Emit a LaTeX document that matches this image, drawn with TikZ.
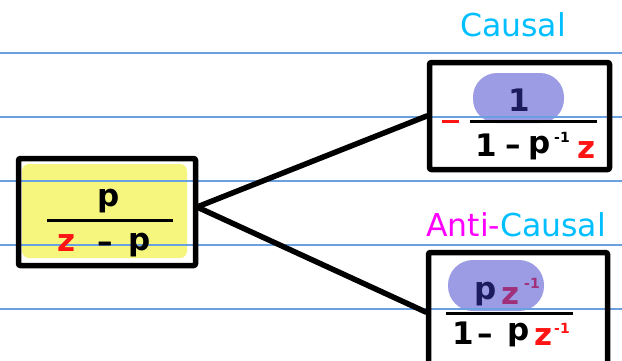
\documentclass[tikz,border=0pt]{standalone}
\usepackage{fontspec}
\setmainfont{DejaVu Sans}
\newfontfamily\hand{DejaVu Sans Bold}
\definecolor{ruleblue}{HTML}{6A9FE0}
\definecolor{hlyellow}{HTML}{F1F128}
\definecolor{hlpurple}{HTML}{7272DB}
\definecolor{navy}{HTML}{1B1B5E}
\definecolor{zred}{HTML}{FF1414}
\definecolor{plum}{HTML}{A0307A}
\definecolor{causalc}{HTML}{00BFFF}
\definecolor{antic}{HTML}{FF00FF}
\tikzset{
  rule/.style={ruleblue, line width=1.2pt},
  box/.style={draw=black, line width=5.5pt, rounded corners=2pt, inner sep=0pt},
  conn/.style={black, line width=5.5pt, line cap=round},
  bar/.style={line width=3pt},
  glyph/.style={inner sep=0pt, font=\hand\fontsize{31}{36}\selectfont},
  supg/.style={inner sep=0pt, font=\hand\fontsize{14}{16}\selectfont},
  title/.style={inner sep=0pt, font=\fontsize{31.5}{36}\selectfont},
}
\begin{document}
\begin{tikzpicture}[x=1pt,y=-1pt]
\useasboundingbox (0,0) rectangle (622,360);
\clip (0,0) rectangle (622,360);
\fill[white] (0,0) rectangle (622,360);
% highlights
\fill[hlyellow, fill opacity=0.6, rounded corners=7pt] (22,164) rectangle (187,258);
\fill[hlpurple, fill opacity=0.7, rounded corners=24pt] (473,73) rectangle (564,123);
\fill[hlpurple, fill opacity=0.7, rounded corners=25pt] (448,260) rectangle (544,311);
% ruled lines
\foreach \yy in {53,117,181,245,309} \draw[rule] (0,\yy) -- (622,\yy);
% boxes
\node[box, minimum width=177pt, minimum height=107pt] (src) at (107,212) {};
\node[box, minimum width=180pt, minimum height=107pt] (causal) at (519.5,116) {};
\node[box, minimum width=179pt, minimum height=119pt] (anti) at (518,312) {};
% connectors
\coordinate (fork) at (197,207);
\draw[conn] (fork) -- (causal.west);
\draw[conn] (fork) -- (anti.west);
% titles
\node[title, text=causalc] (tcausal) at (513,25) {Causal};
\node[title] (tanti) at (516,225) {\textcolor{antic}{Anti-}\textcolor{causalc}{Causal}};
% left fraction
\node[glyph] (lp) at (109,201) {p};
\draw[bar] (47,220) -- (173,220);
\node[glyph, text=zred] (lz) at (67,243) {z};
\node[glyph] (lm) at (105,247) {–};
\node[glyph] (lp2) at (140,245) {p};
% causal fraction
\node[glyph, text=navy] (c1) at (519,100) {1};
\draw[bar] (470,121) -- (597,121);
\draw[bar, zred] (442,121) -- (459,121);
\node[glyph] (cd1) at (486,145) {1};
\node[glyph] (cdm) at (513,150) {–};
\node[glyph] (cdp) at (540,148) {p};
\node[supg] (cds) at (562,137) {-1};
\node[glyph, text=zred] (cdz) at (587,150) {z};
% anti-causal fraction
\node[glyph, text=navy] (ap) at (486,294) {p};
\node[glyph, text=plum] (az) at (511,296) {z};
\node[supg, text=plum] (azs) at (532,283) {-1};
\draw[bar] (446,313) -- (573,313);
\node[glyph] (ad1) at (463,333) {1};
\node[glyph] (adm) at (485,339) {–};
\node[glyph] (adp) at (519,335) {p};
\node[glyph, text=zred] (adz) at (544,337) {z};
\node[supg, text=zred] (ads) at (562,328) {-1};
\end{tikzpicture}
\end{document}
